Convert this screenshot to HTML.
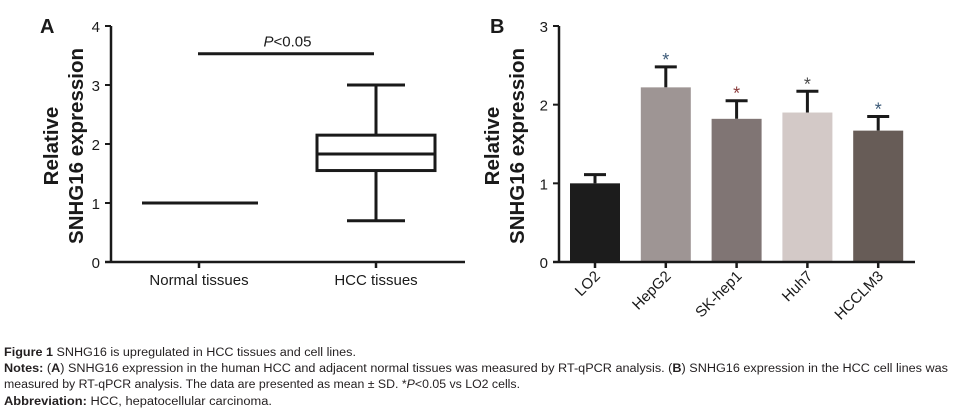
<!DOCTYPE html>
<html><head><meta charset="utf-8"><style>
html,body{margin:0;padding:0;background:#fff;}
svg{display:block;font-family:"Liberation Sans",Arial,sans-serif;}
.cap{font-size:11.5px;fill:#231f20;}
</style></head><body>
<svg id="fig" width="960" height="417" viewBox="0 0 960 417">
<g id="panelA"></g>
<g id="panelB"></g>
<g>
<text class="cap" x="4" y="356" textLength="352" lengthAdjust="spacingAndGlyphs"><tspan font-weight="bold">Figure 1</tspan> SNHG16 is upregulated in HCC tissues and cell lines.</text>
<text class="cap" x="4" y="372" textLength="944" lengthAdjust="spacingAndGlyphs"><tspan font-weight="bold">Notes:</tspan> (<tspan font-weight="bold">A</tspan>) SNHG16 expression in the human HCC and adjacent normal tissues was measured by RT-qPCR analysis. (<tspan font-weight="bold">B</tspan>) SNHG16 expression in the HCC cell lines was</text>
<text class="cap" x="4" y="388" textLength="516" lengthAdjust="spacingAndGlyphs">measured by RT-qPCR analysis. The data are presented as mean ± SD. *<tspan font-style="italic">P</tspan>&lt;0.05 vs LO2 cells.</text>
<text class="cap" x="4" y="405" textLength="268" lengthAdjust="spacingAndGlyphs"><tspan font-weight="bold">Abbreviation:</tspan> HCC, hepatocellular carcinoma.</text>
</g>
</svg>
<script>
// Panel A data
const groupsA = ["Normal tissues", "HCC tissues"];
const normalValue = [1.0];
const hccBox = [0.7, 1.55, 1.83, 2.15, 3.0]; // min, q1, median, q3, max
const ticksA = [0, 1, 2, 3, 4];
const sigLevelA = [3.53];
// Panel B data
const cellLines = ["LO2", "HepG2", "SK-hep1", "Huh7", "HCCLM3"];
const means = [1.0, 2.22, 1.82, 1.9, 1.67];
const sds = [0.11, 0.26, 0.23, 0.27, 0.18];
const ticksB = [0, 1, 2, 3];
const starShown = [false, true, true, true, true];

const NS = "http://www.w3.org/2000/svg";
function mk(parent, tag, attrs, text) {
  const e = document.createElementNS(NS, tag);
  for (const k in attrs) e.setAttribute(k, attrs[k]);
  if (text !== undefined) e.textContent = text;
  parent.appendChild(e);
  return e;
}
const K = "#1a1a1a";

// ---- Panel A ----
(function () {
  const g = document.getElementById("panelA");
  const x0 = 111, yBase = 262, yTop = 26;
  const yA = v => yBase - (v / 4) * (yBase - yTop);
  const xA = i => 199 + i * 177;
  let t = mk(g, "text", {x: 40, y: 33, "font-size": 20, "font-weight": "bold", fill: K}, "A");
  
  
  let ax = mk(g, "line", {x1: x0, y1: yTop, x2: x0, y2: yBase + 1, stroke: K, "stroke-width": 2.5});
  
  
  let xx = mk(g, "line", {x1: 105, y1: yBase, x2: 465, y2: yBase, stroke: K, "stroke-width": 2.5});
  
  
  ticksA.forEach(v => {
    const y = yA(v);
    mk(g, "line", {x1: 105, y1: y, x2: x0, y2: y, stroke: K, "stroke-width": 2});
    const tl = mk(g, "text", {x: 100, y: y + 6, "font-size": 15, "text-anchor": "end", fill: K}, String(v));
    
    
  });
  groupsA.forEach((c, i) => {
    mk(g, "line", {x1: xA(i), y1: yBase, x2: xA(i), y2: yBase + 6, stroke: K, "stroke-width": 2.5});
    const tl = mk(g, "text", {x: xA(i), y: 285, "font-size": 15, "text-anchor": "middle", fill: K}, c);
    
    
  });
  const yt = mk(g, "text", {transform: "translate(66,146) rotate(-90)", "font-size": 20.5, "font-weight": "bold", "text-anchor": "middle", fill: K});
  
  
  mk(yt, "tspan", {x: 0, dy: -8}, "Relative");
  mk(yt, "tspan", {x: 0, dy: 25}, "SNHG16 expression");
  let nl = mk(g, "line", {x1: xA(0) - 57, x2: xA(0) + 59, y1: yA(normalValue[0]), y2: yA(normalValue[0]), stroke: K, "stroke-width": 3});
  
  
  const cx = xA(1), hw = 59, cw = 29;
  const bx = mk(g, "g", {});
  
  
  const [mn, q1, md, q3, mx] = hccBox;
  mk(bx, "line", {x1: cx, x2: cx, y1: yA(mx), y2: yA(q3), stroke: K, "stroke-width": 3});
  mk(bx, "line", {x1: cx, x2: cx, y1: yA(q1), y2: yA(mn), stroke: K, "stroke-width": 3});
  mk(bx, "line", {x1: cx - cw, x2: cx + cw, y1: yA(mx), y2: yA(mx), stroke: K, "stroke-width": 3});
  mk(bx, "line", {x1: cx - cw, x2: cx + cw, y1: yA(mn), y2: yA(mn), stroke: K, "stroke-width": 3});
  mk(bx, "rect", {x: cx - hw, y: yA(q3), width: 2 * hw, height: yA(q1) - yA(q3), fill: "none", stroke: K, "stroke-width": 3});
  mk(bx, "line", {x1: cx - hw, x2: cx + hw, y1: yA(md), y2: yA(md), stroke: K, "stroke-width": 3});
  let sl = mk(g, "line", {x1: xA(0) - 1, x2: xA(1) - 2, y1: yA(sigLevelA[0]), y2: yA(sigLevelA[0]), stroke: K, "stroke-width": 3});
  
  
  const pt = mk(g, "text", {x: (xA(0) + xA(1)) / 2, y: yA(sigLevelA[0]) - 7, "font-size": 15, "text-anchor": "middle", fill: K});
  
  
  mk(pt, "tspan", {"font-style": "italic"}, "P");
  mk(pt, "tspan", {}, "<0.05");
})();

// ---- Panel B ----
(function () {
  const g = document.getElementById("panelB");
  const x0 = 559, yBase = 262, yTop = 26;
  const yB = v => yBase - (v / 3) * (yBase - yTop);
  const xB = i => 595 + i * 70.8;
  const colors = ["#1c1c1c", "#9e9594", "#807574", "#d3c9c7", "#675c57"];
  const starColors = ["#000", "#3c5a78", "#8a3a3a", "#4a4a4a", "#3c5a78"];
  let t = mk(g, "text", {x: 490, y: 33, "font-size": 20, "font-weight": "bold", fill: K}, "B");
  
  
  means.forEach((v, i) => {
    const x = xB(i);
    const eb = mk(g, "g", {});
    
    
    mk(eb, "line", {x1: x, x2: x, y1: yB(v), y2: yB(v + sds[i]), stroke: K, "stroke-width": 3});
    mk(eb, "line", {x1: x - 11, x2: x + 11, y1: yB(v + sds[i]), y2: yB(v + sds[i]), stroke: K, "stroke-width": 3});
    const r = mk(g, "rect", {x: x - 25, y: yB(v), width: 50, height: yB(0) - yB(v), fill: colors[i]});
    
    
    if (starShown[i]) {
      const s = mk(g, "text", {x: x, y: yB(v + sds[i]) - 1, "font-size": 18, "text-anchor": "middle", fill: starColors[i]}, "*");
      
      
    }
    mk(g, "line", {x1: x, x2: x, y1: yBase, y2: yBase + 6, stroke: K, "stroke-width": 2.5});
    const tl = mk(g, "text", {transform: `translate(${x + 6},${yBase + 15}) rotate(-45)`, "font-size": 15, "text-anchor": "end", fill: K}, cellLines[i]);
    
    
  });
  let ax = mk(g, "line", {x1: x0, y1: yTop, x2: x0, y2: yBase + 1, stroke: K, "stroke-width": 2.5});
  
  
  let xx = mk(g, "line", {x1: 553, y1: yBase, x2: 915, y2: yBase, stroke: K, "stroke-width": 2.5});
  
  
  ticksB.forEach(v => {
    const y = yB(v);
    mk(g, "line", {x1: 553, y1: y, x2: x0, y2: y, stroke: K, "stroke-width": 2});
    const tl = mk(g, "text", {x: 548, y: y + 6, "font-size": 15, "text-anchor": "end", fill: K}, String(v));
    
    
  });
  const yt = mk(g, "text", {transform: "translate(507,146) rotate(-90)", "font-size": 20.5, "font-weight": "bold", "text-anchor": "middle", fill: K});
  
  
  mk(yt, "tspan", {x: 0, dy: -8}, "Relative");
  mk(yt, "tspan", {x: 0, dy: 25}, "SNHG16 expression");
})();
</script>
</body></html>
